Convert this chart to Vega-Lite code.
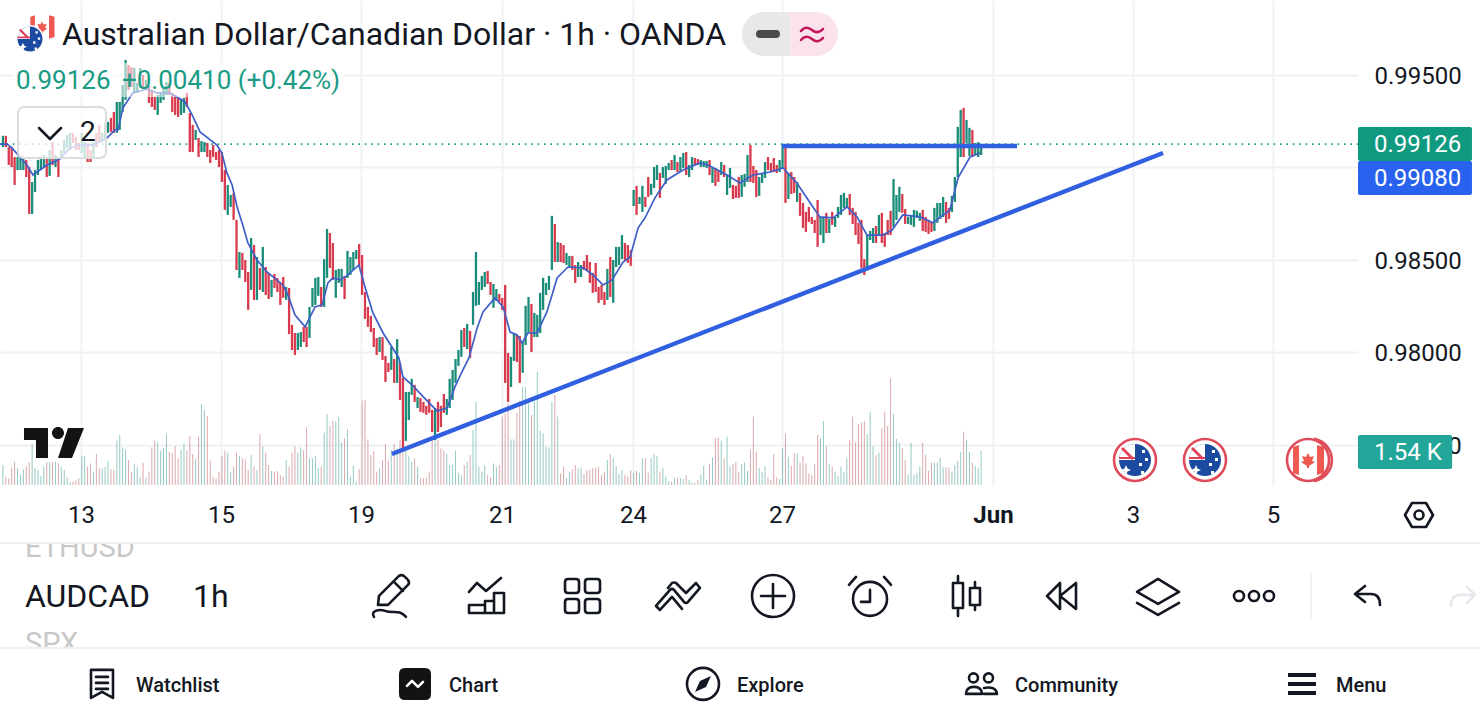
{"$schema":"https://vega.github.io/schema/vega-lite/v6.json","width":1358,"height":485,"padding":{"left":0,"top":0,"right":122,"bottom":235},"autosize":"none","background":"white","config":{"view":{"stroke":null},"font":"Roboto"},
"datasets":{"candles":[
{"n":1,"o":0.9911,"c":0.99171,"v":900},{"n":2,"o":0.99171,"c":0.9911,"v":375},{"n":3,"o":0.9911,"c":0.99013,"v":300},{"n":4,"o":0.99105,"c":0.99002,"v":780},{"n":5,"o":0.99056,"c":0.98905,"v":1050},{"n":6,"o":0.98986,"c":0.99056,"v":750},{"n":7,"o":0.98986,"c":0.99051,"v":450},{"n":8,"o":0.98986,"c":0.99051,"v":705},{"n":9,"o":0.9904,"c":0.98948,"v":825},{"n":10,"o":0.99002,"c":0.98748,"v":1035},
{"n":11,"o":0.98748,"c":0.98921,"v":1845},{"n":12,"o":0.98867,"c":0.98986,"v":750},{"n":13,"o":0.98959,"c":0.9904,"v":675},{"n":14,"o":0.98986,"c":0.99056,"v":405},{"n":15,"o":0.99002,"c":0.99067,"v":825},{"n":16,"o":0.99056,"c":0.98948,"v":1035},{"n":17,"o":0.98954,"c":0.99094,"v":1035},{"n":18,"o":0.99137,"c":0.99013,"v":1035},{"n":19,"o":0.99002,"c":0.99067,"v":1035},{"n":20,"o":0.99051,"c":0.98948,"v":975},
{"n":21,"o":0.99051,"c":0.99094,"v":795},{"n":22,"o":0.99078,"c":0.99148,"v":675},{"n":23,"o":0.99105,"c":0.99175,"v":345},{"n":24,"o":0.99094,"c":0.99187,"v":150},{"n":25,"o":0.99187,"c":0.99132,"v":150},{"n":26,"o":0.99165,"c":0.99094,"v":195},{"n":27,"o":0.99132,"c":0.99094,"v":300},{"n":28,"o":0.99078,"c":0.99187,"v":1305},{"n":29,"o":0.99056,"c":0.99137,"v":1305},{"n":30,"o":0.99132,"c":0.99029,"v":825},
{"n":31,"o":0.99094,"c":0.99029,"v":975},{"n":32,"o":0.99056,"c":0.99137,"v":600},{"n":33,"o":0.99187,"c":0.9911,"v":1395},{"n":34,"o":0.9923,"c":0.99132,"v":750},{"n":35,"o":0.99137,"c":0.99187,"v":750},{"n":36,"o":0.99148,"c":0.99241,"v":795},{"n":37,"o":0.99187,"c":0.99246,"v":1095},{"n":38,"o":0.99268,"c":0.99192,"v":705},{"n":39,"o":0.993,"c":0.99187,"v":675},{"n":40,"o":0.99187,"c":0.99354,"v":1995},
{"n":41,"o":0.99203,"c":0.99354,"v":2250},{"n":42,"o":0.993,"c":0.99446,"v":1695},{"n":43,"o":0.99365,"c":0.99581,"v":1575},{"n":44,"o":0.99554,"c":0.99419,"v":1125},{"n":45,"o":0.99543,"c":0.99435,"v":600},{"n":46,"o":0.99408,"c":0.99538,"v":945},{"n":47,"o":0.99403,"c":0.99457,"v":795},{"n":48,"o":0.9943,"c":0.99538,"v":345},{"n":49,"o":0.995,"c":0.9943,"v":1005},{"n":50,"o":0.99419,"c":0.99473,"v":345},
{"n":51,"o":0.99441,"c":0.99349,"v":600},{"n":52,"o":0.99419,"c":0.99327,"v":1695},{"n":53,"o":0.99381,"c":0.99311,"v":1995},{"n":54,"o":0.99284,"c":0.99392,"v":1905},{"n":55,"o":0.99349,"c":0.99408,"v":1545},{"n":56,"o":0.99365,"c":0.99435,"v":1650},{"n":57,"o":0.99392,"c":0.99462,"v":2295},{"n":58,"o":0.99457,"c":0.99392,"v":1500},{"n":59,"o":0.99403,"c":0.993,"v":1425},{"n":60,"o":0.99392,"c":0.99284,"v":1755},
{"n":61,"o":0.99376,"c":0.99273,"v":1200},{"n":62,"o":0.99284,"c":0.99365,"v":1575},{"n":63,"o":0.99295,"c":0.99376,"v":1875},{"n":64,"o":0.99403,"c":0.99327,"v":1545},{"n":65,"o":0.99295,"c":0.99083,"v":2205},{"n":66,"o":0.9923,"c":0.99083,"v":1395},{"n":67,"o":0.99148,"c":0.99203,"v":1155},{"n":68,"o":0.99159,"c":0.99056,"v":2175},{"n":69,"o":0.99083,"c":0.99143,"v":3645},{"n":70,"o":0.99083,"c":0.99137,"v":3375},
{"n":71,"o":0.99132,"c":0.99056,"v":3105},{"n":72,"o":0.99094,"c":0.99024,"v":1095},{"n":73,"o":0.99121,"c":0.99056,"v":345},{"n":74,"o":0.99083,"c":0.9904,"v":300},{"n":75,"o":0.99094,"c":0.99002,"v":600},{"n":76,"o":0.99083,"c":0.98921,"v":1305},{"n":77,"o":0.98986,"c":0.9877,"v":1545},{"n":78,"o":0.98743,"c":0.98905,"v":1455},{"n":79,"o":0.98786,"c":0.98851,"v":600},{"n":80,"o":0.98862,"c":0.98716,"v":825},
{"n":81,"o":0.98716,"c":0.98445,"v":1455},{"n":82,"o":0.98402,"c":0.98542,"v":1305},{"n":83,"o":0.98537,"c":0.98445,"v":1200},{"n":84,"o":0.98499,"c":0.9838,"v":1155},{"n":85,"o":0.98434,"c":0.98229,"v":675},{"n":86,"o":0.98337,"c":0.98618,"v":1350},{"n":87,"o":0.9858,"c":0.98283,"v":825},{"n":88,"o":0.98283,"c":0.98515,"v":675},{"n":89,"o":0.98456,"c":0.98337,"v":2295},{"n":90,"o":0.98326,"c":0.9857,"v":1725},
{"n":91,"o":0.98461,"c":0.9831,"v":1455},{"n":92,"o":0.98429,"c":0.98288,"v":900},{"n":93,"o":0.98299,"c":0.98391,"v":630},{"n":94,"o":0.98423,"c":0.98348,"v":600},{"n":95,"o":0.98402,"c":0.98326,"v":630},{"n":96,"o":0.98375,"c":0.98256,"v":450},{"n":97,"o":0.98407,"c":0.98294,"v":375},{"n":98,"o":0.98283,"c":0.98353,"v":1125},{"n":99,"o":0.98348,"c":0.98098,"v":825},{"n":100,"o":0.98148,"c":0.98012,"v":1455},
{"n":101,"o":0.98104,"c":0.97985,"v":1755},{"n":102,"o":0.98012,"c":0.98104,"v":1455},{"n":103,"o":0.98028,"c":0.98109,"v":1695},{"n":104,"o":0.98137,"c":0.98055,"v":1575},{"n":105,"o":0.98137,"c":0.98028,"v":2595},{"n":106,"o":0.98077,"c":0.98245,"v":1200},{"n":107,"o":0.98245,"c":0.98348,"v":1200},{"n":108,"o":0.98256,"c":0.98402,"v":1305},{"n":109,"o":0.98305,"c":0.98407,"v":750},{"n":110,"o":0.98353,"c":0.98245,"v":825},
{"n":111,"o":0.98245,"c":0.98504,"v":2355},{"n":112,"o":0.98402,"c":0.98667,"v":3195},{"n":113,"o":0.98645,"c":0.98456,"v":2655},{"n":114,"o":0.98591,"c":0.98391,"v":2880},{"n":115,"o":0.98294,"c":0.98445,"v":2850},{"n":116,"o":0.98375,"c":0.98451,"v":3075},{"n":117,"o":0.98353,"c":0.98451,"v":1905},{"n":118,"o":0.98413,"c":0.98288,"v":2100},{"n":119,"o":0.98402,"c":0.98548,"v":2505},{"n":120,"o":0.98418,"c":0.98515,"v":375},
{"n":121,"o":0.98445,"c":0.98542,"v":870},{"n":122,"o":0.98504,"c":0.98553,"v":150},{"n":123,"o":0.98585,"c":0.98461,"v":705},{"n":124,"o":0.98526,"c":0.9831,"v":3795},{"n":125,"o":0.98326,"c":0.9818,"v":3825},{"n":126,"o":0.98245,"c":0.98137,"v":2055},{"n":127,"o":0.98197,"c":0.98109,"v":1350},{"n":128,"o":0.98131,"c":0.98028,"v":1530},{"n":129,"o":0.98077,"c":0.97985,"v":600},{"n":130,"o":0.98001,"c":0.98082,"v":750},
{"n":131,"o":0.98082,"c":0.97958,"v":1125},{"n":132,"o":0.9798,"c":0.97839,"v":1845},{"n":133,"o":0.97942,"c":0.97893,"v":1095},{"n":134,"o":0.97904,"c":0.98028,"v":1575},{"n":135,"o":0.97963,"c":0.97834,"v":1845},{"n":136,"o":0.97834,"c":0.98071,"v":1650},{"n":137,"o":0.97942,"c":0.97742,"v":2025},{"n":138,"o":0.97861,"c":0.97471,"v":1575},{"n":139,"o":0.9752,"c":0.97785,"v":1575},{"n":140,"o":0.97633,"c":0.97785,"v":1305},
{"n":141,"o":0.97769,"c":0.97856,"v":1050},{"n":142,"o":0.97823,"c":0.97731,"v":1200},{"n":143,"o":0.97698,"c":0.97758,"v":825},{"n":144,"o":0.97752,"c":0.97677,"v":300},{"n":145,"o":0.97731,"c":0.97672,"v":300},{"n":146,"o":0.9771,"c":0.97661,"v":330},{"n":147,"o":0.97747,"c":0.97672,"v":600},{"n":148,"o":0.97688,"c":0.97568,"v":2025},{"n":149,"o":0.97525,"c":0.97698,"v":2025},{"n":150,"o":0.97731,"c":0.97568,"v":2025},
{"n":151,"o":0.9771,"c":0.97595,"v":1650},{"n":152,"o":0.97774,"c":0.97672,"v":1545},{"n":153,"o":0.97661,"c":0.97747,"v":1395},{"n":154,"o":0.97698,"c":0.97856,"v":900},{"n":155,"o":0.97742,"c":0.97904,"v":930},{"n":156,"o":0.97834,"c":0.97963,"v":1545},{"n":157,"o":0.97926,"c":0.98012,"v":555},{"n":158,"o":0.97975,"c":0.9812,"v":450},{"n":159,"o":0.98131,"c":0.98028,"v":900},{"n":160,"o":0.98017,"c":0.98153,"v":1050},
{"n":161,"o":0.98115,"c":0.97969,"v":1350},{"n":162,"o":0.98148,"c":0.98326,"v":2475},{"n":163,"o":0.98251,"c":0.98542,"v":3750},{"n":164,"o":0.98256,"c":0.9838,"v":825},{"n":165,"o":0.98337,"c":0.98413,"v":600},{"n":166,"o":0.98353,"c":0.98434,"v":870},{"n":167,"o":0.9844,"c":0.98369,"v":450},{"n":168,"o":0.9838,"c":0.9831,"v":345},{"n":169,"o":0.9824,"c":0.98369,"v":975},{"n":170,"o":0.98278,"c":0.98342,"v":825},
{"n":171,"o":0.98315,"c":0.98272,"v":900},{"n":172,"o":0.98294,"c":0.98229,"v":3075},{"n":173,"o":0.98364,"c":0.97834,"v":3225},{"n":174,"o":0.97996,"c":0.97731,"v":3675},{"n":175,"o":0.97812,"c":0.97975,"v":2055},{"n":176,"o":0.97953,"c":0.98104,"v":2055},{"n":177,"o":0.98093,"c":0.97947,"v":3255},{"n":178,"o":0.98088,"c":0.97834,"v":3795},{"n":179,"o":0.97888,"c":0.98055,"v":4425},{"n":180,"o":0.98039,"c":0.98251,"v":4395},
{"n":181,"o":0.98104,"c":0.98299,"v":3675},{"n":182,"o":0.98261,"c":0.98001,"v":3150},{"n":183,"o":0.98082,"c":0.98213,"v":3750},{"n":184,"o":0.98082,"c":0.98202,"v":5100},{"n":185,"o":0.98104,"c":0.98321,"v":2445},{"n":186,"o":0.98229,"c":0.98402,"v":2325},{"n":187,"o":0.9831,"c":0.98375,"v":1725},{"n":188,"o":0.98337,"c":0.98413,"v":1695},{"n":189,"o":0.98445,"c":0.98738,"v":3750},{"n":190,"o":0.98694,"c":0.98488,"v":4050},
{"n":191,"o":0.98488,"c":0.98596,"v":3075},{"n":192,"o":0.98591,"c":0.98488,"v":525},{"n":193,"o":0.9858,"c":0.98483,"v":825},{"n":194,"o":0.98472,"c":0.98537,"v":300},{"n":195,"o":0.98456,"c":0.98521,"v":600},{"n":196,"o":0.98521,"c":0.98445,"v":705},{"n":197,"o":0.98472,"c":0.98375,"v":900},{"n":198,"o":0.98407,"c":0.98488,"v":750},{"n":199,"o":0.98407,"c":0.98472,"v":780},{"n":200,"o":0.98494,"c":0.98445,"v":495},
{"n":201,"o":0.98526,"c":0.98445,"v":675},{"n":202,"o":0.98488,"c":0.98375,"v":675},{"n":203,"o":0.98429,"c":0.98321,"v":750},{"n":204,"o":0.98483,"c":0.98326,"v":780},{"n":205,"o":0.98353,"c":0.98267,"v":825},{"n":206,"o":0.98364,"c":0.98283,"v":450},{"n":207,"o":0.98326,"c":0.98256,"v":600},{"n":208,"o":0.98283,"c":0.98451,"v":1125},{"n":209,"o":0.98515,"c":0.98299,"v":1395},{"n":210,"o":0.98267,"c":0.98499,"v":1200},
{"n":211,"o":0.98461,"c":0.9857,"v":855},{"n":212,"o":0.98472,"c":0.9857,"v":495},{"n":213,"o":0.98504,"c":0.98634,"v":675},{"n":214,"o":0.98591,"c":0.98499,"v":450},{"n":215,"o":0.9858,"c":0.98483,"v":375},{"n":216,"o":0.98553,"c":0.98467,"v":675},{"n":217,"o":0.98791,"c":0.98878,"v":555},{"n":218,"o":0.989,"c":0.98743,"v":630},{"n":219,"o":0.98802,"c":0.9884,"v":555},{"n":220,"o":0.98759,"c":0.989,"v":1185},
{"n":221,"o":0.9884,"c":0.98786,"v":1215},{"n":222,"o":0.98948,"c":0.9884,"v":555},{"n":223,"o":0.98851,"c":0.98911,"v":1215},{"n":224,"o":0.98889,"c":0.99002,"v":1395},{"n":225,"o":0.98932,"c":0.99013,"v":1305},{"n":226,"o":0.9897,"c":0.98835,"v":600},{"n":227,"o":0.98943,"c":0.99002,"v":780},{"n":228,"o":0.98911,"c":0.99008,"v":375},{"n":229,"o":0.98986,"c":0.99024,"v":180},{"n":230,"o":0.9904,"c":0.98986,"v":150},
{"n":231,"o":0.98986,"c":0.99067,"v":330},{"n":232,"o":0.99029,"c":0.98975,"v":330},{"n":233,"o":0.98981,"c":0.99056,"v":330},{"n":234,"o":0.98997,"c":0.99078,"v":270},{"n":235,"o":0.99083,"c":0.98959,"v":450},{"n":236,"o":0.98948,"c":0.99013,"v":225},{"n":237,"o":0.98986,"c":0.99056,"v":120},{"n":238,"o":0.99051,"c":0.99013,"v":75},{"n":239,"o":0.99045,"c":0.99013,"v":225},{"n":240,"o":0.99002,"c":0.9904,"v":450},
{"n":241,"o":0.99002,"c":0.99035,"v":870},{"n":242,"o":0.98997,"c":0.99035,"v":225},{"n":243,"o":0.9904,"c":0.98959,"v":945},{"n":244,"o":0.98916,"c":0.98997,"v":1245},{"n":245,"o":0.98997,"c":0.989,"v":2100},{"n":246,"o":0.98986,"c":0.98921,"v":2145},{"n":247,"o":0.98959,"c":0.99029,"v":1995},{"n":248,"o":0.99013,"c":0.98948,"v":1200},{"n":249,"o":0.98851,"c":0.98959,"v":2175},{"n":250,"o":0.98889,"c":0.98997,"v":855},
{"n":251,"o":0.98905,"c":0.98829,"v":945},{"n":252,"o":0.989,"c":0.98835,"v":1035},{"n":253,"o":0.98948,"c":0.98835,"v":585},{"n":254,"o":0.9884,"c":0.98959,"v":945},{"n":255,"o":0.98895,"c":0.98965,"v":1020},{"n":256,"o":0.98921,"c":0.99067,"v":645},{"n":257,"o":0.99121,"c":0.98921,"v":1575},{"n":258,"o":0.99008,"c":0.98916,"v":3075},{"n":259,"o":0.98986,"c":0.9884,"v":1500},{"n":260,"o":0.98846,"c":0.98948,"v":780},
{"n":261,"o":0.98916,"c":0.9897,"v":585},{"n":262,"o":0.98943,"c":0.99029,"v":855},{"n":263,"o":0.99056,"c":0.98986,"v":345},{"n":264,"o":0.99024,"c":0.98975,"v":225},{"n":265,"o":0.99051,"c":0.98975,"v":1395},{"n":266,"o":0.99013,"c":0.9897,"v":345},{"n":267,"o":0.98975,"c":0.9904,"v":270},{"n":268,"o":0.98997,"c":0.99121,"v":1650},{"n":269,"o":0.99121,"c":0.98808,"v":2295},{"n":270,"o":0.98829,"c":0.9897,"v":1275},
{"n":271,"o":0.98975,"c":0.98856,"v":855},{"n":272,"o":0.98948,"c":0.98862,"v":1425},{"n":273,"o":0.98813,"c":0.98921,"v":1425},{"n":274,"o":0.98862,"c":0.98738,"v":1005},{"n":275,"o":0.98808,"c":0.98672,"v":1305},{"n":276,"o":0.98759,"c":0.98651,"v":975},{"n":277,"o":0.98786,"c":0.98705,"v":525},{"n":278,"o":0.98732,"c":0.98694,"v":450},{"n":279,"o":0.98716,"c":0.98645,"v":930},{"n":280,"o":0.98824,"c":0.9857,"v":2250},
{"n":281,"o":0.98634,"c":0.98732,"v":2100},{"n":282,"o":0.98591,"c":0.98732,"v":2880},{"n":283,"o":0.98754,"c":0.98645,"v":1755},{"n":284,"o":0.98645,"c":0.98721,"v":945},{"n":285,"o":0.98759,"c":0.98689,"v":825},{"n":286,"o":0.98678,"c":0.98732,"v":600},{"n":287,"o":0.98727,"c":0.98786,"v":405},{"n":288,"o":0.98743,"c":0.98851,"v":825},{"n":289,"o":0.98781,"c":0.98862,"v":600},{"n":290,"o":0.98781,"c":0.98835,"v":1200},
{"n":291,"o":0.98856,"c":0.98743,"v":2025},{"n":292,"o":0.98781,"c":0.98694,"v":3075},{"n":293,"o":0.98759,"c":0.98634,"v":1920},{"n":294,"o":0.987,"c":0.98585,"v":2745},{"n":295,"o":0.98716,"c":0.98456,"v":2805},{"n":296,"o":0.98504,"c":0.98418,"v":2880},{"n":297,"o":0.98456,"c":0.98634,"v":2295},{"n":298,"o":0.98607,"c":0.98656,"v":3300},{"n":299,"o":0.98591,"c":0.98672,"v":1755},{"n":300,"o":0.98683,"c":0.98591,"v":1350},
{"n":301,"o":0.98634,"c":0.98743,"v":1455},{"n":302,"o":0.98754,"c":0.98591,"v":2550},{"n":303,"o":0.98645,"c":0.9857,"v":3300},{"n":304,"o":0.98716,"c":0.98634,"v":2655},{"n":305,"o":0.98765,"c":0.98634,"v":4800},{"n":306,"o":0.98678,"c":0.98937,"v":3195},{"n":307,"o":0.98716,"c":0.98851,"v":2070},{"n":308,"o":0.98759,"c":0.98895,"v":1905},{"n":309,"o":0.98856,"c":0.98754,"v":1650},{"n":310,"o":0.98775,"c":0.98694,"v":1125},
{"n":311,"o":0.98694,"c":0.98732,"v":450},{"n":312,"o":0.98689,"c":0.98743,"v":1905},{"n":313,"o":0.98678,"c":0.9877,"v":450},{"n":314,"o":0.98727,"c":0.98765,"v":525},{"n":315,"o":0.98711,"c":0.98754,"v":855},{"n":316,"o":0.9877,"c":0.98656,"v":1905},{"n":317,"o":0.98732,"c":0.98651,"v":1350},{"n":318,"o":0.98716,"c":0.9864,"v":645},{"n":319,"o":0.98705,"c":0.98651,"v":1005},{"n":320,"o":0.98656,"c":0.98781,"v":1005},
{"n":321,"o":0.987,"c":0.98808,"v":1020},{"n":322,"o":0.98721,"c":0.98808,"v":1230},{"n":323,"o":0.98732,"c":0.9884,"v":795},{"n":324,"o":0.98813,"c":0.987,"v":795},{"n":325,"o":0.98781,"c":0.98721,"v":780},{"n":326,"o":0.98759,"c":0.98846,"v":600},{"n":327,"o":0.98813,"c":0.98948,"v":900},{"n":328,"o":0.98948,"c":0.99219,"v":1080},{"n":329,"o":0.99056,"c":0.99311,"v":1500},{"n":330,"o":0.99322,"c":0.99056,"v":2400},
{"n":331,"o":0.99132,"c":0.99257,"v":2025},{"n":332,"o":0.99062,"c":0.99214,"v":1500},{"n":333,"o":0.99203,"c":0.99056,"v":1005},{"n":334,"o":0.99067,"c":0.99132,"v":855},{"n":335,"o":0.99056,"c":0.99137,"v":780},{"n":336,"o":0.99067,"c":0.99126,"v":1540}],
"ma":[{"n":0,"p":0.99126},{"n":2.4,"p":0.99126},{"n":4.1,"p":0.99105},{"n":6.8,"p":0.99056},{"n":9.2,"p":0.99013},{"n":11.3,"p":0.98959},{"n":16.1,"p":0.99013},{"n":20.5,"p":0.99045},{"n":24,"p":0.99105},{"n":27.4,"p":0.99121},{"n":31.8,"p":0.99121},{"n":36.6,"p":0.99159},{"n":39.4,"p":0.99203},{"n":40.4,"p":0.99203},{"n":42.1,"p":0.99322},{"n":45.5,"p":0.99403},{"n":50.3,"p":0.99424},{"n":53.8,"p":0.99403},{"n":58.2,"p":0.99403},{"n":63.4,"p":0.99354},{"n":65.8,"p":0.99284},{"n":68.5,"p":0.99192},{"n":74.3,"p":0.99121},{"n":76,"p":0.99078},{"n":77.7,"p":0.9897},{"n":79.5,"p":0.98905},{"n":81.2,"p":0.98786},{"n":82.9,"p":0.987},{"n":84.9,"p":0.98591},{"n":88,"p":0.98499},{"n":91.4,"p":0.98434},{"n":96.9,"p":0.98364},{"n":98.6,"p":0.9831},{"n":101,"p":0.98202},{"n":104.5,"p":0.98137},{"n":106.2,"p":0.98191},{"n":107.9,"p":0.98245},{"n":110.3,"p":0.98256},{"n":112.3,"p":0.98375},{"n":114,"p":0.98402},{"n":116.4,"p":0.98391},{"n":118.8,"p":0.98413},{"n":122.9,"p":0.98472},{"n":125,"p":0.98353},{"n":127.7,"p":0.98213},{"n":131.2,"p":0.98104},{"n":136.6,"p":0.97969},{"n":138,"p":0.97866},{"n":141.1,"p":0.97823},{"n":146.6,"p":0.97731},{"n":149.7,"p":0.97682},{"n":153.1,"p":0.97698},{"n":155.8,"p":0.97812},{"n":158.2,"p":0.97893},{"n":160.6,"p":0.97969},{"n":163.4,"p":0.98131},{"n":165.4,"p":0.98218},{"n":169.5,"p":0.98294},{"n":172.3,"p":0.98245},{"n":174.7,"p":0.98109},{"n":177.1,"p":0.98093},{"n":178.8,"p":0.9805},{"n":180.8,"p":0.98104},{"n":183.9,"p":0.98104},{"n":187.3,"p":0.98218},{"n":190.8,"p":0.98402},{"n":194.5,"p":0.98461},{"n":199.7,"p":0.98456},{"n":203.1,"p":0.98418},{"n":206.5,"p":0.98364},{"n":209.6,"p":0.98391},{"n":213.4,"p":0.98488},{"n":215.8,"p":0.98515},{"n":218.5,"p":0.98672},{"n":220.9,"p":0.98727},{"n":224.3,"p":0.98835},{"n":228.4,"p":0.98932},{"n":233.9,"p":0.98986},{"n":239.7,"p":0.99024},{"n":242.5,"p":0.99013},{"n":249,"p":0.98959},{"n":253.4,"p":0.98916},{"n":257.9,"p":0.98959},{"n":263.7,"p":0.98975},{"n":268.2,"p":0.98997},{"n":272.9,"p":0.98916},{"n":278.4,"p":0.98786},{"n":280.8,"p":0.98732},{"n":285.3,"p":0.98727},{"n":290.1,"p":0.98786},{"n":293.5,"p":0.98732},{"n":296.9,"p":0.98634},{"n":302.4,"p":0.98634},{"n":305.5,"p":0.98661},{"n":309.2,"p":0.98743},{"n":315.1,"p":0.98732},{"n":319.5,"p":0.987},{"n":325.3,"p":0.9877},{"n":328.1,"p":0.98943},{"n":332.2,"p":0.99056},{"n":335.6,"p":0.99078}],
"drawings":[{"name":"trend","n":134.2,"p":0.97449},{"name":"trend","n":398.3,"p":0.99078},{"name":"level","n":267.8,"p":0.99116},{"name":"level","n":348.3,"p":0.99116}],
"tags":[{"name":"last","n":465.07,"n2":504.1,"p":0.99219,"p2":0.99035},{"name":"ma","n":465.07,"n2":504.1,"p":0.99035,"p2":0.98851},{"name":"vol","n":465.07,"n2":497.3,"p":0.97552,"p2":0.97368}],
"smallFlags":[{"icon":"caBarR","n":14.38,"p":0.9976},{"icon":"caBarL","n":14.38,"p":0.9976},{"icon":"caLeaf","n":14.38,"p":0.9976},{"icon":"halo","n":10.27,"p":0.99695},{"icon":"auDisc","n":10.27,"p":0.99695},{"icon":"auCorner","n":10.27,"p":0.99695},{"icon":"auCross","n":10.27,"p":0.99695},{"icon":"auStars","n":10.27,"p":0.99695}],
"fillIcons":[{"icon":"logo","n":18.49,"p":0.97509},{"icon":"pillGrey","n":270.55,"p":0.99722},{"icon":"pillPink","n":270.55,"p":0.99722},{"icon":"dash","n":263.01,"p":0.99722},{"icon":"chartNav","n":142.12,"p":0.96205},{"icon":"needle","n":240.75,"p":0.96205},{"icon":"menu","n":445.89,"p":0.96205},
{"icon":"halo","n":388.7,"p":0.97417},{"icon":"auDisc","n":388.7,"p":0.97417},{"icon":"auCorner","n":388.7,"p":0.97417},{"icon":"auCross","n":388.7,"p":0.97417},{"icon":"auStars","n":388.7,"p":0.97417},
{"icon":"halo","n":412.67,"p":0.97417},{"icon":"auDisc","n":412.67,"p":0.97417},{"icon":"auCorner","n":412.67,"p":0.97417},{"icon":"auCross","n":412.67,"p":0.97417},{"icon":"auStars","n":412.67,"p":0.97417},
{"icon":"halo","n":447.95,"p":0.97417},{"icon":"caBarL","n":447.95,"p":0.97417},{"icon":"caBarR","n":447.95,"p":0.97417},{"icon":"caLeaf","n":447.95,"p":0.97417}],
"strokeIcons":[{"icon":"pencil","n":133.9,"p":0.96676},{"icon":"chartI","n":166.44,"p":0.96681},{"icon":"gridI","n":199.32,"p":0.96681},{"icon":"dcheck","n":232.19,"p":0.96681},{"icon":"plus","n":264.73,"p":0.96681},{"icon":"alarm","n":297.95,"p":0.96676},{"icon":"candleI","n":330.82,"p":0.96681},{"icon":"rewind","n":363.7,"p":0.96681},{"icon":"layersI","n":396.58,"p":0.96681},{"icon":"dots","n":429.45,"p":0.96681},{"icon":"undo","n":468.15,"p":0.96681},{"icon":"redo","n":501.03,"p":0.96676},{"icon":"hex","n":485.96,"p":0.97119},{"icon":"watch","n":34.93,"p":0.96205},{"icon":"zig","n":142.12,"p":0.96205},{"icon":"explore","n":240.75,"p":0.96205},{"icon":"community","n":335.96,"p":0.96205},{"icon":"chev","n":17.12,"p":0.99186},{"icon":"wave","n":278.08,"p":0.99722},{"icon":"evRing","n":388.7,"p":0.97417},{"icon":"evRing","n":412.67,"p":0.97417},{"icon":"evRing","n":447.95,"p":0.97417},{"icon":"caRing2","n":447.95,"p":0.97417}]},
"encoding":{"x":{"field":"n","type":"quantitative","scale":{"domain":[0,465.07],"nice":false,"zero":false},"axis":{"values":[27.74,75.68,123.63,171.9,216.8,267.8,340.07,388,435.96],"labelExpr":"{'27.74':'13','75.68':'15','123.63':'19','171.9':'21','216.8':'24','267.8':'27','340.07':'Jun','388':'3','435.96':'5'}[''+datum.value]","title":null,"domain":false,"ticks":false,"grid":true,"gridColor":"#f0f1f4","gridWidth":2,"labelFont":"Roboto","labelFontSize":24,"labelColor":"#131722","labelPadding":18,"labelOverlap":false,"labelFlush":false,"labelBound":false,"labelFontWeight":{"condition":{"test":"datum.value==340.07","value":"bold"},"value":"normal"}}},
"y":{"field":"p","type":"quantitative","scale":{"domain":[0.972814,0.999058],"nice":false,"zero":false},"axis":null}},
"resolve":{"scale":{"y":"independent","color":"independent","shape":"independent"}},
"layer":[
{"data":{"values":[{"p":0.99126,"n":0},{"p":0.99126,"n":465.07}]},"mark":{"type":"line","stroke":"#1a9b85","strokeWidth":1.6,"strokeDash":[1.6,4.8]},"encoding":{"y":{"field":"p","type":"quantitative","scale":{"domain":[0.972814,0.999058],"nice":false,"zero":false},"axis":{"orient":"right","values":[0.975,0.98,0.985,0.99,0.995],"format":".5f","title":null,"domain":false,"ticks":false,"grid":true,"gridColor":"#f0f1f4","gridWidth":2,"labelFont":"Roboto","labelFontSize":24,"labelColor":"#131722","labelPadding":16,"labelOffset":1.5,"labelOverlap":false,"labelBound":false}}}},
{"data":{"name":"candles"},"mark":{"type":"rule","strokeWidth":1,"opacity":0.55},"encoding":{"y":{"field":"v","type":"quantitative","scale":{"domain":[0,21825],"nice":false},"axis":null},"y2":{"datum":0},"color":{"condition":{"test":"datum.c>=datum.o","value":"#3f9c93"},"value":"#c06068"}}},
{"data":{"name":"candles"},"mark":{"type":"rule","strokeWidth":2.3},"encoding":{"y":{"field":"o","type":"quantitative","scale":{"domain":[0.972814,0.999058],"nice":false,"zero":false},"axis":null},"y2":{"field":"c"},"color":{"condition":{"test":"datum.c>=datum.o","value":"#1b8c7a"},"value":"#d9394c"}}},
{"data":{"name":"ma"},"mark":{"type":"line","stroke":"#3f5fc8","strokeWidth":1.7},"encoding":{}},
{"data":{"name":"drawings"},"mark":{"type":"line","stroke":"#3060e0","strokeWidth":4.4},"encoding":{"detail":{"field":"name"}}},
{"data":{"values":[{"n":4.1,"n2":118,"p":0.99565,"p2":0.99381}]},"mark":{"type":"rect","fill":"white","fillOpacity":0.55},"encoding":{"x2":{"field":"n2"},"y2":{"field":"p2"}}},
{"data":{"values":[{"n":6.16,"n2":36.3,"p":0.99327,"p2":0.99051}]},"mark":{"type":"rect","fill":"white","fillOpacity":0.75,"stroke":"#dcdcdc","strokeWidth":2,"cornerRadius":6},"encoding":{"x2":{"field":"n2"},"y2":{"field":"p2"}}},
{"data":{"name":"tags"},"mark":{"type":"rect","cornerRadius":2},"encoding":{"x2":{"field":"n2"},"y2":{"field":"p2"},"color":{"field":"name","type":"nominal","legend":null,"scale":{"domain":["last","ma","vol"],"range":["#0f9a80","#2a62f0","#22a699"]}}}},
{"data":{"name":"smallFlags"},"mark":{"type":"point","filled":true,"size":2.44,"opacity":1,"strokeWidth":0},"encoding":{"shape":{"field":"icon","type":"nominal","legend":null,"scale":{"domain":["halo","auDisc","auCorner","auCross","auStars","caBarL","caBarR","caLeaf"],"range":["M-18 0 A18 18 0 1 0 18 0 A18 18 0 1 0 -18 0 Z","M-16 0 A16 16 0 1 0 16 0 A16 16 0 1 0 -16 0 Z","M0 0 H-16 A16 16 0 0 1 0 -16 Z","M-12 -13 L-1 -2 L-3 0 L-14 -11 Z M-16 -3 H0 V-1 H-16 Z","M-9 5 L-7.5 8.5 L-4 10 L-7.5 11.5 L-9 15 L-10.5 11.5 L-14 10 L-10.5 8.5 Z M7 -10 h3 v3 h-3 Z M10 -2 h3 v3 h-3 Z M4 3 h3 v3 h-3 Z M6 11 h3 v3 h-3 Z","M-15 -13 L-9 -15 V15 L-15 13 Z","M9 -15 L16 -13 V13 L9 15 Z","M0 -7 L2 -3 L6 -4 L4 1 L7 2 L1 6 V8 H-1 V6 L-7 2 L-4 1 L-6 -4 L-2 -3 Z"]}},"color":{"field":"icon","type":"nominal","legend":null,"scale":{"domain":["halo","auDisc","auCorner","auCross","auStars","caBarL","caBarR","caLeaf"],"range":["#ffffff","#1a4ba0","#ffffff","#e0405a","#ffffff","#ee5a52","#ee5a52","#ee5a52"]}}}},
{"data":{"name":"fillIcons"},"mark":{"type":"point","filled":true,"size":4,"opacity":1,"strokeWidth":0},"encoding":{"shape":{"field":"icon","type":"nominal","legend":null,"scale":{"domain":["logo","pillGrey","pillPink","dash","chartNav","needle","menu","halo","auDisc","auCorner","auCross","auStars","caBarL","caBarR","caLeaf"],"range":["M-30 -15 H-6 V15 H-18 V-3 H-30 Z M-2 -10 A6 6 0 1 0 10 -10 A6 6 0 1 0 -2 -10 Z M14 -15 H30 L18 15 H4 Z","M0 -22 H-26 A22 22 0 0 0 -26 22 H0 Z","M0 -22 H26 A22 22 0 0 1 26 22 H0 Z","M-8 -4 H8 Q12 -4 12 0 Q12 4 8 4 H-8 Q-12 4 -12 0 Q-12 -4 -8 -4 Z","M-10 -16 H10 Q16 -16 16 -10 V10 Q16 16 10 16 H-10 Q-16 16 -16 10 V-10 Q-16 -16 -10 -16 Z","M-8 8 L-3 -3 L8 -8 L3 3 Z","M-14 -11 H14 V-7 H-14 Z M-14 -2 H14 V2 H-14 Z M-14 7 H14 V11 H-14 Z","M-21 0 A21 21 0 1 0 21 0 A21 21 0 1 0 -21 0 Z","M-16 0 A16 16 0 1 0 16 0 A16 16 0 1 0 -16 0 Z","M0 0 H-16 A16 16 0 0 1 0 -16 Z","M-12 -13 L-1 -2 L-3 0 L-14 -11 Z M-16 -3 H0 V-1 H-16 Z","M-9 5 L-7.5 8.5 L-4 10 L-7.5 11.5 L-9 15 L-10.5 11.5 L-14 10 L-10.5 8.5 Z M7 -10 h3 v3 h-3 Z M10 -2 h3 v3 h-3 Z M4 3 h3 v3 h-3 Z M6 11 h3 v3 h-3 Z","M-15 -13 L-9 -15 V15 L-15 13 Z","M9 -15 L16 -13 V13 L9 15 Z","M0 -7 L2 -3 L6 -4 L4 1 L7 2 L1 6 V8 H-1 V6 L-7 2 L-4 1 L-6 -4 L-2 -3 Z"]}},"color":{"field":"icon","type":"nominal","legend":null,"scale":{"domain":["logo","pillGrey","pillPink","dash","chartNav","needle","menu","halo","auDisc","auCorner","auCross","auStars","caBarL","caBarR","caLeaf"],"range":["#131313","#e8e8e8","#fbe3ec","#4a4a4a","#131313","#131722","#131722","#ffffff","#1a4ba0","#ffffff","#e0405a","#ffffff","#ee5a52","#ee5a52","#ee5a52"]}}}},
{"data":{"name":"strokeIcons"},"mark":{"type":"point","filled":false,"size":4,"opacity":1,"strokeWidth":2.6,"strokeJoin":"round","strokeCap":"round"},"encoding":{"shape":{"field":"icon","type":"nominal","legend":null,"scale":{"domain":["pencil","chartI","gridI","dcheck","plus","alarm","candleI","rewind","layersI","dots","undo","redo","hex","watch","zig","explore","community","chev","wave","evRing","caRing2"],"range":["M-13 8 L-12 -1 L8 -21 Q11 -23 14 -20 L17 -17 Q19 -14 17 -12 L-3 8 Z M3 -15 L12 -6 M-17 20 C-21 14 -12 12 -6 14 C2 17 8 12 15 20","M-17 -4 L-9 -13 L0 -5 L15 -18 M-17 17 H18 V-3 H8 V17 M8 5 H-1 V17 M-1 9 H-17 V17","M-14 -17 H-6 Q-3 -17 -3 -14 V-6 Q-3 -3 -6 -3 H-14 Q-17 -3 -17 -6 V-14 Q-17 -17 -14 -17 Z M6 -17 H15 Q18 -17 18 -14 V-6 Q18 -3 15 -3 H6 Q3 -3 3 -6 V-14 Q3 -17 6 -17 Z M-14 3 H-6 Q-3 3 -3 6 V14 Q-3 17 -6 17 H-14 Q-17 17 -17 14 V6 Q-17 3 -14 3 Z M6 3 H15 Q18 3 18 6 V14 Q18 17 15 17 H6 Q3 17 3 14 V6 Q3 3 6 3 Z","M-22 10 L-8 -6 Q-6 -8 -4 -6 L6 6 Q8 8 10 6 L22 -8 L18 -13 L8 -3 L-2 -13 Q-4 -14 -6 -13 L-10 -8 M-22 10 L-18 14 L-6 1 L4 13","M-21 0 A21 21 0 1 0 21 0 A21 21 0 1 0 -21 0 Z M-12 0 H12 M0 -12 V12","M-17 2 A17 17 0 1 0 17 2 A17 17 0 1 0 -17 2 Z M0 -7 V5 H-9 M-21 -12 L-14 -20 M21 -12 L14 -20","M-13 -13 H-3 V12 H-13 Z M-8 -20 V-13 M-8 12 V20 M4 -8 H14 V9 H4 Z M9 -14 V-8 M9 9 V14","M-15 0 L-2 -13 V13 Z M-2 0 L14 -13 V13 Z","M0 -17 L21 -4 L0 8 L-21 -4 Z M-21 7 L0 19 L21 7","M-20 0 A5 5 0 1 0 -10 0 A5 5 0 1 0 -20 0 Z M-5 0 A5 5 0 1 0 5 0 A5 5 0 1 0 -5 0 Z M10 0 A5 5 0 1 0 20 0 A5 5 0 1 0 10 0 Z","M-2 -10 L-12 -2 L-2 6 M-12 -2 H4 Q13 -2 13 9","M-12 9 Q-12 -2 -2 -2 H12 M4 -10 L12 -2 L4 6","M-14 0 L-7 -12 H7 L14 0 L7 12 H-7 Z M-4.5 0 A4.5 4.5 0 1 0 4.5 0 A4.5 4.5 0 1 0 -4.5 0 Z","M-11 -14 H11 V14 L0 8 L-11 14 Z M-6 -7 H6 M-6 -1 H6 M-6 5 H6","M-8 2 L-3 -3 L3 3 L8 -2","M-16 0 A16 16 0 1 0 16 0 A16 16 0 1 0 -16 0 Z","M-12 -6 A4.5 4.5 0 1 0 -3 -6 A4.5 4.5 0 1 0 -12 -6 Z M3 -6 A4.5 4.5 0 1 0 12 -6 A4.5 4.5 0 1 0 3 -6 Z M-15 10 Q-15 3 -7 3 Q1 3 1 10 Z M3 4 Q15 2 16 10 H3","M-11 -5 L0 6 L11 -5","M-11 -3 Q-6 -9 0 -4 Q6 1 11 -5 M-11 6 Q-6 0 0 5 Q6 10 11 4","M-21 0 A21 21 0 1 0 21 0 A21 21 0 1 0 -21 0 Z","M7 -21 A21.5 21.5 0 0 1 7 21"]}},"color":{"field":"icon","type":"nominal","legend":null,"scale":{"domain":["pencil","chartI","gridI","dcheck","plus","alarm","candleI","rewind","layersI","dots","undo","redo","hex","watch","zig","explore","community","chev","wave","evRing","caRing2"],"range":["#131722","#131722","#131722","#131722","#131722","#131722","#131722","#131722","#131722","#131722","#131722","#e6e8ee","#131722","#131722","#ffffff","#131722","#131722","#131722","#c2185b","#e04b5a","#e04b5a"]}}}},
{"data":{"values":[{"label":"Australian Dollar/Canadian Dollar · 1h · OANDA","n":21.23,"p":0.99717}]},"mark":{"type":"text","align":"left","baseline":"middle","font":"Roboto","fontSize":32,"color":"#131722"},"encoding":{"text":{"field":"label"}}},
{"data":{"values":[{"label":"0.99126","n":5.48,"p":0.99468},{"label":"+0.00410 (+0.42%)","n":41.78,"p":0.99468}]},"mark":{"type":"text","align":"left","baseline":"middle","font":"Roboto","fontSize":26,"color":"#1a9b85"},"encoding":{"text":{"field":"label"}}},
{"data":{"values":[{"label":"2","n":27.4,"p":0.99187}]},"mark":{"type":"text","align":"left","baseline":"middle","font":"Roboto","fontSize":28,"color":"#131722"},"encoding":{"text":{"field":"label"}}},
{"data":{"values":[{"label":"0.99126","n":470.55,"p":0.99121},{"label":"0.99080","n":470.55,"p":0.98938},{"label":"1.54 K","n":470.55,"p":0.97455}]},"mark":{"type":"text","align":"left","baseline":"middle","font":"Roboto","fontSize":24,"color":"#ffffff"},"encoding":{"text":{"field":"label"}}},
{"data":{"values":[{"label":"AUDCAD","n":8.56,"p":0.96676},{"label":"1h","n":66.1,"p":0.96676}]},"mark":{"type":"text","align":"left","baseline":"middle","font":"Roboto","fontSize":32,"color":"#131722"},"encoding":{"text":{"field":"label"}}},
{"data":{"values":[{"label":"ETHUSD","n":8.56,"p":0.96941},{"label":"SPX","n":8.56,"p":0.96422}]},"mark":{"type":"text","align":"left","baseline":"middle","font":"Roboto","fontSize":29,"color":"#c8c8c8"},"encoding":{"text":{"field":"label"}}},
{"data":{"values":[{"label":"Watchlist","n":46.58,"p":0.96194},{"label":"Chart","n":153.77,"p":0.96194},{"label":"Explore","n":252.4,"p":0.96194},{"label":"Community","n":347.6,"p":0.96194},{"label":"Menu","n":457.53,"p":0.96194}]},"mark":{"type":"text","align":"left","baseline":"middle","font":"Roboto","fontSize":20,"fontWeight":500,"color":"#131722"},"encoding":{"text":{"field":"label"}}},
{"data":{"values":[{"n":6.8,"n2":54.8,"p":0.97033,"p2":0.96968},{"n":6.8,"n2":34,"p":0.964,"p2":0.96335}]},"mark":{"type":"rect","fill":"white"},"encoding":{"x2":{"field":"n2"},"y2":{"field":"p2"}}},
{"data":{"values":[{"n":0,"n2":506.85,"p":0.96968},{"n":0,"n2":506.85,"p":0.964}]},"mark":{"type":"rule","stroke":"#f0f0f0","strokeWidth":2},"encoding":{"x2":{"field":"n2"}}},
{"data":{"values":[{"n":448.97,"p":0.96806,"p2":0.96551}]},"mark":{"type":"rule","stroke":"#efefef","strokeWidth":1.5},"encoding":{"y2":{"field":"p2"}}}
]}
